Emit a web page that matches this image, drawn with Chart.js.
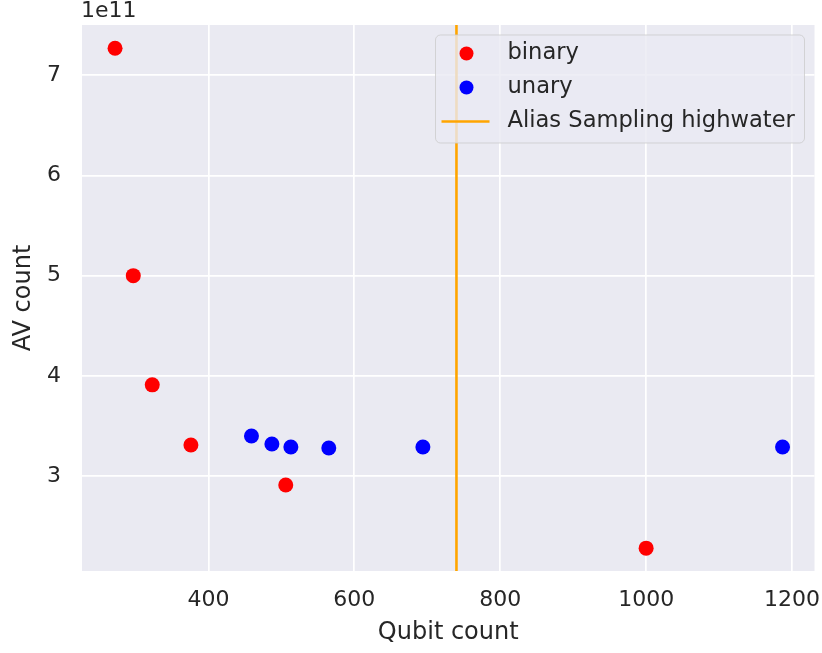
<!DOCTYPE html>
<html>
<head>
<meta charset="utf-8">
<script src="https://cdn.jsdelivr.net/npm/chart.js@4.4.1/dist/chart.umd.min.js"></script>
<style>
  html, body { margin: 0; padding: 0; background: #ffffff; }
  #wrap { width: 822px; height: 653px; position: relative; }
</style>
</head>
<body>
<div id="wrap"><canvas id="avChart"></canvas></div>
<script>
// qubit count vs AV count
const binaryQubits = [272, 297, 323, 376, 506, 1000];
const binaryAV = [7.27e11, 5.0e11, 3.91e11, 3.31e11, 2.91e11, 2.28e11];

const unaryQubits = [459, 487, 513, 565, 694, 1187];
const unaryAV = [3.40e11, 3.32e11, 3.29e11, 3.28e11, 3.29e11, 3.29e11];

const highwaterQubits = 740;

const xTicks = [400, 600, 800, 1000, 1200];
const yTicks = [3e11, 4e11, 5e11, 6e11, 7e11];

const TEXT = "#262626";
const FONT = "'DejaVu Sans', sans-serif";

function toPoints(xs, ys) {
    return xs.map((x, i) => ({ x: x, y: ys[i] }));
}

// keep the plot box where the layout padding puts it
function noLabelPadding(scale) {
    scale.paddingTop = 0;
    scale.paddingBottom = 0;
    scale.paddingLeft = 0;
    scale.paddingRight = 0;
}

const backgroundPlugin = {
    id: "plotBackground",
    beforeDraw(chart) {
        const { ctx, chartArea } = chart;
        ctx.save();
        ctx.fillStyle = "#EAEAF2";
        ctx.fillRect(chartArea.left, chartArea.top,
            chartArea.right - chartArea.left, chartArea.bottom - chartArea.top);
        ctx.restore();
    }
};

const highwaterPlugin = {
    id: "highwater",
    afterDatasetsDraw(chart) {
        const { ctx, chartArea } = chart;
        const x = chart.scales.x.getPixelForValue(highwaterQubits);
        ctx.save();
        ctx.strokeStyle = "#FFA500";
        ctx.lineWidth = 2.6;
        ctx.beginPath();
        ctx.moveTo(x, chartArea.top);
        ctx.lineTo(x, chartArea.bottom);
        ctx.stroke();
        ctx.restore();
    }
};

const legendPlugin = {
    id: "innerLegend",
    afterDraw(chart) {
        const { ctx, chartArea } = chart;
        const right = chartArea.right - 10;
        const top = chartArea.top + 10;
        const w = 369, h = 108;
        const left = right - w;
        ctx.save();
        ctx.beginPath();
        ctx.roundRect(left, top, w, h, 5);
        ctx.fillStyle = "rgba(234,234,242,0.8)";
        ctx.fill();
        ctx.strokeStyle = "rgba(204,204,204,0.8)";
        ctx.lineWidth = 1;
        ctx.stroke();

        const rows = [
            { label: "binary", color: "#FF0000", kind: "dot" },
            { label: "unary", color: "#0000FF", kind: "dot" },
            { label: "Alias Sampling highwater", color: "#FFA500", kind: "line" }
        ];
        ctx.font = "22.6px " + FONT;
        ctx.textBaseline = "middle";
        ctx.textAlign = "left";
        rows.forEach((r, i) => {
            const cy = top + 18.5 + i * 34;
            if (r.kind === "dot") {
                ctx.fillStyle = r.color;
                ctx.beginPath();
                ctx.arc(left + 31, cy, 7, 0, Math.PI * 2);
                ctx.fill();
            } else {
                ctx.strokeStyle = r.color;
                ctx.lineWidth = 2.6;
                ctx.beginPath();
                ctx.moveTo(left + 6, cy);
                ctx.lineTo(left + 54, cy);
                ctx.stroke();
            }
            ctx.fillStyle = TEXT;
            ctx.fillText(r.label, left + 72, cy);
        });

        // offset text of the y axis
        ctx.font = "22px " + FONT;
        ctx.textBaseline = "alphabetic";
        ctx.fillStyle = TEXT;
        ctx.fillText("1e11", chartArea.left - 1, 17);
        ctx.restore();
    }
};

const ctx = document.getElementById("avChart").getContext("2d");

new Chart(ctx, {
    type: "scatter",
    data: {
        datasets: [{
            label: "binary",
            data: toPoints(binaryQubits, binaryAV),
            backgroundColor: "#FF0000",
            borderWidth: 0,
            pointRadius: 7.5
        }, {
            label: "unary",
            data: toPoints(unaryQubits, unaryAV),
            backgroundColor: "#0000FF",
            borderWidth: 0,
            pointRadius: 7.5
        }]
    },
    options: {
        responsive: true,
        maintainAspectRatio: false,
        animation: false,
        layout: {
            padding: { left: 0, right: 7, top: 25, bottom: 0 }
        },
        plugins: {
            legend: { display: false },
            tooltip: { enabled: false }
        },
        scales: {
            x: {
                type: "linear",
                min: 226.7,
                max: 1230.8,
                afterBuildTicks: axis => {
                    axis.ticks = xTicks.map(v => ({ value: v }));
                },
                afterFit: scale => {
                    scale.height = 82;
                    noLabelPadding(scale);
                },
                grid: { color: "#ffffff", lineWidth: 1.7, drawTicks: false },
                border: { display: false },
                ticks: {
                    padding: 16,
                    color: TEXT,
                    font: { family: FONT, size: 22 },
                    callback: v => String(v)
                },
                title: {
                    display: true,
                    text: "Qubit count",
                    color: TEXT,
                    font: { family: FONT, size: 24 },
                    padding: { top: 0, bottom: 6 }
                }
            },
            y: {
                type: "linear",
                min: 2.052e11,
                max: 7.502e11,
                afterBuildTicks: axis => {
                    axis.ticks = yTicks.map(v => ({ value: v }));
                },
                afterFit: scale => {
                    scale.width = 82;
                    noLabelPadding(scale);
                },
                grid: { color: "#ffffff", lineWidth: 1.7, drawTicks: false },
                border: { display: false },
                ticks: {
                    padding: 21,
                    color: TEXT,
                    font: { family: FONT, size: 22 },
                    callback: v => String(Math.round(v / 1e11))
                },
                title: {
                    display: true,
                    text: "AV count",
                    color: TEXT,
                    font: { family: FONT, size: 24 },
                    padding: { top: 9, bottom: 0 }
                }
            }
        }
    },
    plugins: [backgroundPlugin, highwaterPlugin, legendPlugin]
});
</script>
</body>
</html>
